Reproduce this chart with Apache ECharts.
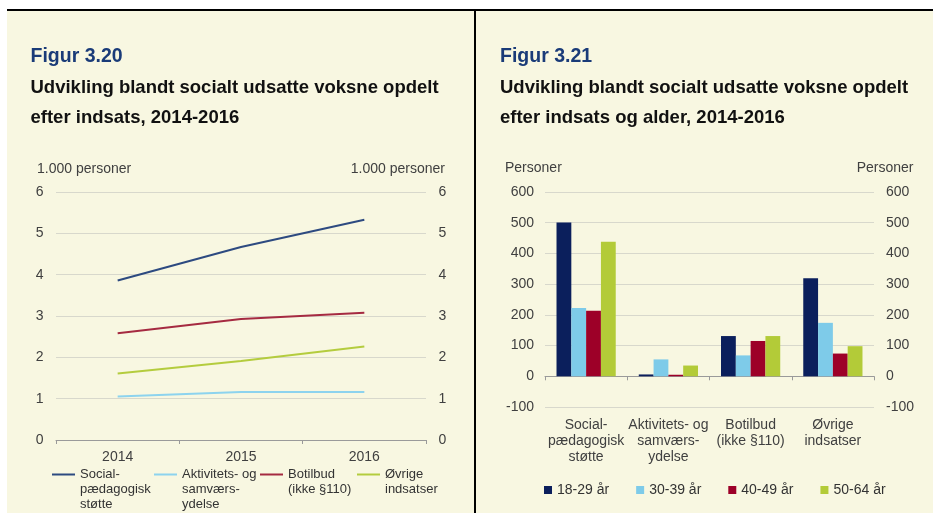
<!DOCTYPE html>
<html><head><meta charset="utf-8">
<script src="https://cdn.jsdelivr.net/npm/echarts@6/dist/echarts.min.js"></script>
<style>
html,body{margin:0;padding:0;background:#fff;}
#wrap{position:relative;width:933px;height:513px;overflow:hidden;}
.panel{position:absolute;background:#f8f7e1;}
.bar{position:absolute;background:#000;}
#c{position:absolute;left:0;top:0;width:933px;height:513px;}
</style>
</head><body>
<div id="wrap">
  <div class="panel" style="left:7px;top:11px;width:468px;height:502px;"></div>
  <div class="panel" style="left:476px;top:11px;width:457px;height:502px;"></div>
  <div class="bar" style="left:7px;top:9px;width:926px;height:2px;"></div>
  <div class="bar" style="left:474px;top:9px;width:2px;height:504px;"></div>
  <div id="c"></div>
</div>
<script>
// ---- data: Figur 3.20 (1.000 personer) ----
const years = ['2014', '2015', '2016'];
const lineNames = ['Social-\npædagogisk\nstøtte', 'Aktivitets- og\nsamværs-\nydelse', 'Botilbud\n(ikke §110)', 'Øvrige\nindsatser'];
const socialValues = [3.86, 4.67, 5.33];
const aktivitetValues = [1.05, 1.16, 1.16];
const botilbudValues = [2.58, 2.93, 3.08];
const ovrigeValues = [1.61, 1.91, 2.26];
const lineAxisTicks = [0, 1, 2, 3, 4, 5, 6];

// ---- data: Figur 3.21 (Personer) ----
const barCategories = ['Social-\npædagogisk\nstøtte', 'Aktivitets- og\nsamværs-\nydelse', 'Botilbud\n(ikke §110)', 'Øvrige\nindsatser'];
const ageGroups = ['18-29 år', '30-39 år', '40-49 år', '50-64 år'];
const age1829 = [501, 6, 131, 319];
const age3039 = [222, 55, 68, 174];
const age4049 = [213, 5, 115, 74];
const age5064 = [438, 35, 131, 98];
const barAxisTicks = [-100, 0, 100, 200, 300, 400, 500, 600];

const FONT = '"Liberation Sans", Arial, sans-serif';
const lineColors = ['#2d4a80', '#8dd3ee', '#a52a41', '#b4cc3e'];
const barColors = ['#0b1f5c', '#7ecbe9', '#9d0028', '#b3cb38'];
const gridLineColor = '#d8d8cc';
const axisColor = '#9a9a9a';
const labelColor = '#404040';

const chart = echarts.init(document.getElementById('c'), null, {renderer: 'canvas'});

function tTitle(text, pos, style) {
  return Object.assign({text: text, padding: 0, textStyle: Object.assign({fontFamily: FONT}, style)}, pos);
}
const figStyle = {fontSize: 19.5, fontWeight: 'bold', color: '#1a3b78', lineHeight: 22};
const subStyle = {fontSize: 18.5, fontWeight: 'bold', color: '#111111', lineHeight: 30};
const unitStyle = {fontSize: 14, fontWeight: 'normal', color: labelColor, lineHeight: 16};

const lineSeriesData = [socialValues, aktivitetValues, botilbudValues, ovrigeValues];
const lineLegendLeft = [52, 154, 260, 357];
const legendCenterY = 474.5;
const LH = 15;

const legends = lineNames.map(function (n, i) {
  const lines = n.split('\n').length;
  const total = 2 * lines - 1;
  return {
    data: [n], left: lineLegendLeft[i], top: legendCenterY - total * LH / 2, padding: 0,
    icon: 'rect', itemWidth: 23, itemHeight: 2,
    formatter: function (name) { return '\n'.repeat(lines - 1) + name; },
    textStyle: {fontFamily: FONT, fontSize: 13, color: '#333333', lineHeight: LH}
  };
});
legends.push({
  data: ageGroups, left: 544, top: 482, padding: 0, icon: 'rect', itemWidth: 8, itemHeight: 8, itemGap: 27,
  textStyle: {fontFamily: FONT, fontSize: 14, color: '#333333', lineHeight: 16}
});

function yAx(grid, pos, ticks, margin, split) {
  return {
    type: 'value', gridIndex: grid, position: pos,
    min: ticks[0], max: ticks[ticks.length - 1], interval: ticks[1] - ticks[0],
    axisLine: {show: false}, axisTick: {show: false},
    axisLabel: {margin: margin, fontFamily: FONT, fontSize: 14, color: labelColor},
    splitLine: {show: split, lineStyle: {color: gridLineColor, width: 1}}
  };
}

const option = {
  animation: false,
  backgroundColor: 'transparent',
  title: [
    tTitle('Figur 3.20', {left: 30.5, top: 46}, figStyle),
    tTitle('Udvikling blandt socialt udsatte voksne opdelt\nefter indsats, 2014-2016', {left: 30.5, top: 73}, subStyle),
    tTitle('Figur 3.21', {left: 500, top: 46}, figStyle),
    tTitle('Udvikling blandt socialt udsatte voksne opdelt\nefter indsats og alder, 2014-2016', {left: 500, top: 73}, subStyle),
    tTitle('1.000 personer', {left: 37, top: 161}, unitStyle),
    tTitle('1.000 personer', {right: 488, top: 161}, unitStyle),
    tTitle('Personer', {left: 505, top: 160}, unitStyle),
    tTitle('Personer', {right: 19.5, top: 160}, unitStyle)
  ],
  legend: legends,
  grid: [
    {left: 56, top: 192, width: 370, height: 248, containLabel: false},
    {left: 545, top: 192, width: 329, height: 215, containLabel: false}
  ],
  xAxis: [
    {
      type: 'category', gridIndex: 0, data: years, boundaryGap: true,
      axisLine: {lineStyle: {color: axisColor, width: 1}},
      axisTick: {show: true, length: 4, lineStyle: {color: axisColor}},
      axisLabel: {margin: 10, fontFamily: FONT, fontSize: 14, color: labelColor},
      splitLine: {show: false}
    },
    {
      type: 'category', gridIndex: 1, data: barCategories, boundaryGap: true,
      axisLine: {onZero: true, lineStyle: {color: axisColor, width: 1}},
      axisTick: {show: true, length: 4, lineStyle: {color: axisColor}},
      axisLabel: {margin: 10, interval: 0, fontFamily: FONT, fontSize: 14, color: labelColor, lineHeight: 16},
      splitLine: {show: false}
    }
  ],
  yAxis: [
    yAx(0, 'left', lineAxisTicks, 12.5, true),
    yAx(0, 'right', lineAxisTicks, 12.5, false),
    yAx(1, 'left', barAxisTicks, 11, true),
    yAx(1, 'right', barAxisTicks, 12, false)
  ],
  series: lineNames.map(function (n, i) {
    return {
      name: n, type: 'line', xAxisIndex: 0, yAxisIndex: 0, data: lineSeriesData[i],
      showSymbol: false, symbol: 'none', smooth: false,
      lineStyle: {color: lineColors[i], width: 2}, itemStyle: {color: lineColors[i]}
    };
  }).concat([age1829, age3039, age4049, age5064].map(function (d, i) {
    return {
      name: ageGroups[i], type: 'bar', xAxisIndex: 1, yAxisIndex: 2, data: d,
      barGap: '0%', barCategoryGap: '28%',
      itemStyle: {color: barColors[i]}
    };
  }))
};
chart.setOption(option);
</script>
</body></html>
